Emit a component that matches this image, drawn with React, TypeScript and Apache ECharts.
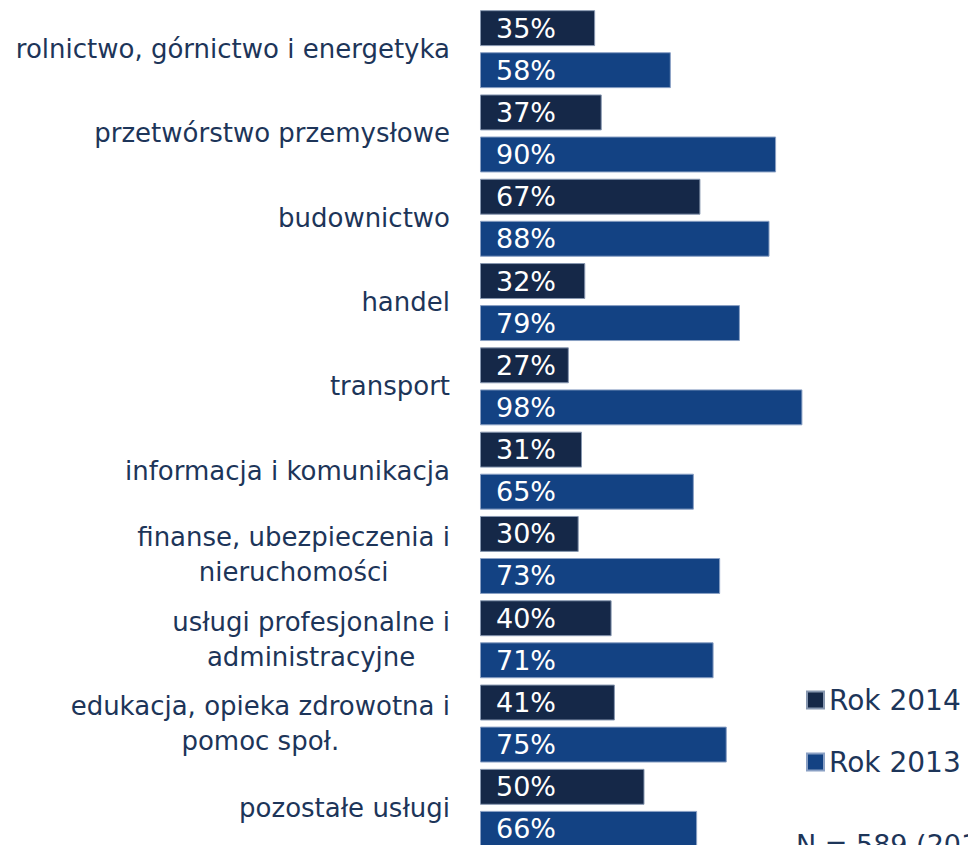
import React, { useEffect, useRef } from "react";
import * as echarts from "echarts";

const categories = [
  "rolnictwo, górnictwo i energetyka",
  "przetwórstwo przemysłowe",
  "budownictwo",
  "handel",
  "transport",
  "informacja i komunikacja",
  "finanse, ubezpieczenia i\nnieruchomości",
  "usługi profesjonalne i\nadministracyjne",
  "edukacja, opieka zdrowotna i\npomoc społ.",
  "pozostałe usługi",
];
const values2014 = [35, 37, 67, 32, 27, 31, 30, 40, 41, 50];
const values2013 = [58, 90, 88, 79, 98, 65, 73, 71, 75, 66];
const seriesNames = ["Rok 2014", "Rok 2013"];
const noteText = "N = 589 (2014)";

const FONT = "DejaVu Sans";
const TEXT_COLOR = "#1d3559";

export default function App() {
  const ref = useRef<HTMLDivElement>(null);
  useEffect(() => {
    if (!ref.current) return;
    const chart = echarts.init(ref.current, undefined, { renderer: "svg" });
    const barLabel = {
      show: true,
      position: "insideLeft",
      distance: 16,
      formatter: "{c}%",
      color: "#ffffff",
      fontFamily: FONT,
      fontSize: 27,
    };
    chart.setOption({
      animation: false,
      backgroundColor: "#ffffff",
      grid: {
        left: 480,
        width: 329,
        top: 7,
        height: 843,
        containLabel: false,
        outerBoundsMode: "none",
      },
      xAxis: {
        type: "value",
        min: 0,
        max: 100,
        show: false,
      },
      yAxis: {
        type: "category",
        data: categories,
        inverse: true,
        axisLine: { show: false },
        axisTick: { show: false },
        axisLabel: {
          margin: 30,
          fontFamily: FONT,
          fontSize: 26,
          color: TEXT_COLOR,
          lineHeight: 35,
          formatter: (v: string) =>
            v.split("\n").map((l) => `{c|${l}}`).join("\n"),
          rich: {
            c: {
              align: "center",
              fontFamily: FONT,
              fontSize: 26,
              color: TEXT_COLOR,
              lineHeight: 35,
            },
          },
        },
      },
      legend: {
        orient: "vertical",
        left: 801,
        top: 681,
        itemWidth: 17,
        itemHeight: 17,
        itemGap: 34,
        icon: "rect",
        textStyle: { fontFamily: FONT, fontSize: 28, color: TEXT_COLOR },
        data: seriesNames,
      },
      graphic: [
        {
          type: "text",
          left: 796,
          top: 831,
          style: { text: noteText, fontFamily: FONT, fontSize: 27, fill: TEXT_COLOR },
        },
      ],
      series: [
        {
          name: seriesNames[0],
          type: "bar",
          data: values2014,
          barGap: "17%",
          barCategoryGap: "7.5%",
          itemStyle: { color: "#152848", borderColor: "#8797b0", borderWidth: 1 },
          label: barLabel,
        },
        {
          name: seriesNames[1],
          type: "bar",
          data: values2013,
          barGap: "17%",
          barCategoryGap: "7.5%",
          itemStyle: { color: "#134283", borderColor: "#8aa0c4", borderWidth: 1 },
          label: barLabel,
        },
      ],
    });
    return () => chart.dispose();
  }, []);
  return (
    <div
      ref={ref}
      style={{ position: "absolute", left: 0, top: 0, width: 968, height: 845 }}
    />
  );
}
